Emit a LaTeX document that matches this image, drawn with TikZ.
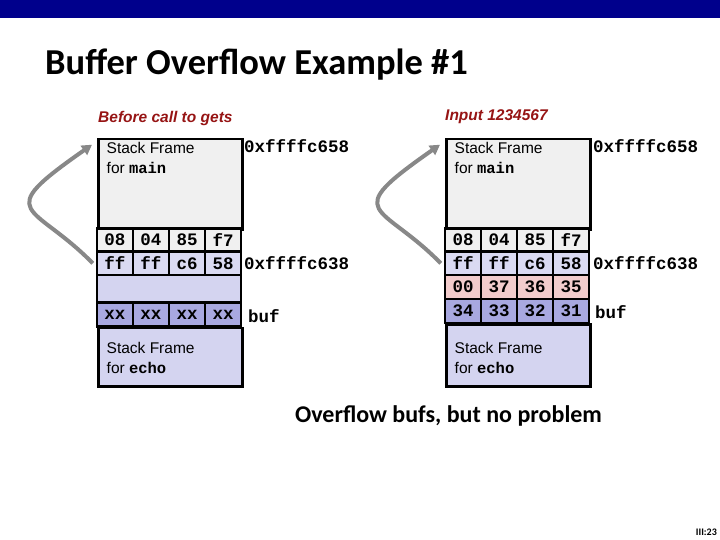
\documentclass[tikz,border=0pt]{standalone}
\usepackage{fontspec}
\setmainfont{Carlito}
\setmonofont{Liberation Mono}
\newfontfamily\framefont{Liberation Sans}
\usetikzlibrary{arrows.meta}

\definecolor{barblue}{RGB}{0,0,140}
\definecolor{headred}{RGB}{150,20,20}
\definecolor{framegray}{RGB}{240,240,240}
\definecolor{lightlav}{RGB}{218,218,242}
\definecolor{lav}{RGB}{212,212,240}
\definecolor{darklav}{RGB}{168,168,224}
\definecolor{pinkrow}{RGB}{242,204,204}
\definecolor{arrowgray}{RGB}{136,136,136}

\tikzset{
  cell/.style={draw, line width=2.5pt, minimum width=36pt, minimum height=23.4pt, inner sep=0pt, font=\fontsize{17.5}{17.5}\selectfont\ttfamily\bfseries},
  frame/.style={draw, line width=2.5pt, minimum width=144pt, inner sep=0pt, anchor=north west},
  frametext/.style={anchor=north west, align=left, inner sep=0pt, font=\fontsize{15.5}{20.5}\selectfont\framefont},
  addr/.style={anchor=west, inner sep=0pt, font=\fontsize{17.5}{17.5}\selectfont\ttfamily\bfseries},
  heading/.style={anchor=west, inner sep=0pt, text=headred, font=\fontsize{15.5}{15.5}\selectfont\framefont\bfseries\itshape},
  retarrow/.style={draw=arrowgray, line width=4pt, -{Triangle[length=10pt,width=11pt]}}
}

\begin{document}
\begin{tikzpicture}[x=1pt,y=-1pt]
  \useasboundingbox (0,0) rectangle (720,540);
  \fill[barblue] (0,0) rectangle (720,18);
  \node[anchor=base west, inner sep=0pt, font=\fontsize{36.5}{36.5}\selectfont\bfseries] at (45,75) (title) {Buffer Overflow Example \#1};

  % before call to gets
  \node[heading] at (98,118) (headL) {Before call to gets};
  \node[frame, fill=framegray, minimum height=90.6pt] at (97,137.7) (mainL) {};
  \node[frametext] at (106.5,142) (mainLtxt) {Stack Frame\\for {\ttfamily\bfseries main}};
  \node[cell, fill=framegray] at (115,240) (rowaL1) {08};
  \node[cell, fill=framegray] at (151,240) (rowaL2) {04};
  \node[cell, fill=framegray] at (187,240) (rowaL3) {85};
  \node[cell, fill=framegray] at (223,240) (rowaL4) {f7};
  \node[cell, fill=lightlav] at (115,263.3) (rowbL1) {ff};
  \node[cell, fill=lightlav] at (151,263.3) (rowbL2) {ff};
  \node[cell, fill=lightlav] at (187,263.3) (rowbL3) {c6};
  \node[cell, fill=lightlav] at (223,263.3) (rowbL4) {58};
  \node[cell, fill=lav, minimum width=144pt, minimum height=27.3pt] at (169,288.7) (gapL) {};
  \node[cell, fill=darklav, minimum height=24.4pt] at (115,314.5) (bufL1) {xx};
  \node[cell, fill=darklav, minimum height=24.4pt] at (151,314.5) (bufL2) {xx};
  \node[cell, fill=darklav, minimum height=24.4pt] at (187,314.5) (bufL3) {xx};
  \node[cell, fill=darklav, minimum height=24.4pt] at (223,314.5) (bufL4) {xx};
  \node[frame, fill=lav, minimum height=58.3pt] at (97,326.7) (echoL) {};
  \node[frametext] at (106.5,342) (echoLtxt) {Stack Frame\\for {\ttfamily\bfseries echo}};
  \node[addr] at (244,146) (topL) {0xffffc658};
  \node[addr] at (244,263) (retL) {0xffffc638};
  \node[addr] at (248,316) (bufL) {buf};
  \draw[retarrow] ([xshift=-3pt]rowbL1.west) .. controls (33,202) and (-10,216) .. ([xshift=-5pt,yshift=-7pt]mainL.north west);

  % input 1234567
  \node[heading] at (445,117) (headR) {Input 1234567};
  \node[frame, fill=framegray, minimum height=90.6pt] at (445,137.7) (mainR) {};
  \node[frametext] at (454.5,142) (mainRtxt) {Stack Frame\\for {\ttfamily\bfseries main}};
  \node[cell, fill=framegray] at (463,240) (rowaR1) {08};
  \node[cell, fill=framegray] at (499,240) (rowaR2) {04};
  \node[cell, fill=framegray] at (535,240) (rowaR3) {85};
  \node[cell, fill=framegray] at (571,240) (rowaR4) {f7};
  \node[cell, fill=lightlav] at (463,263.3) (rowbR1) {ff};
  \node[cell, fill=lightlav] at (499,263.3) (rowbR2) {ff};
  \node[cell, fill=lightlav] at (535,263.3) (rowbR3) {c6};
  \node[cell, fill=lightlav] at (571,263.3) (rowbR4) {58};
  \node[cell, fill=pinkrow, minimum height=24pt] at (463,287) (rowcR1) {00};
  \node[cell, fill=pinkrow, minimum height=24pt] at (499,287) (rowcR2) {37};
  \node[cell, fill=pinkrow, minimum height=24pt] at (535,287) (rowcR3) {36};
  \node[cell, fill=pinkrow, minimum height=24pt] at (571,287) (rowcR4) {35};
  \node[cell, fill=darklav, minimum height=24.3pt] at (463,311) (bufR1) {34};
  \node[cell, fill=darklav, minimum height=24.3pt] at (499,311) (bufR2) {33};
  \node[cell, fill=darklav, minimum height=24.3pt] at (535,311) (bufR3) {32};
  \node[cell, fill=darklav, minimum height=24.3pt] at (571,311) (bufR4) {31};
  \node[frame, fill=lav, minimum height=61.7pt] at (445,323.3) (echoR) {};
  \node[frametext] at (454.5,342) (echoRtxt) {Stack Frame\\for {\ttfamily\bfseries echo}};
  \node[addr] at (593,146) (topR) {0xffffc658};
  \node[addr] at (593,263) (retR) {0xffffc638};
  \node[addr] at (595,312) (bufR) {buf};
  \draw[retarrow] ([xshift=-3pt]rowbR1.west) .. controls (381,202) and (338,216) .. ([xshift=-5pt,yshift=-7pt]mainR.north west);

  \node[font=\fontsize{24}{24}\selectfont\bfseries] at (448.5,415.5) (note) {Overflow bufs, but no problem};
  \node[anchor=base east, inner sep=0pt, font=\fontsize{10}{10}\selectfont\bfseries] at (717,535) (pagenum) {III:23};
\end{tikzpicture}
\end{document}
